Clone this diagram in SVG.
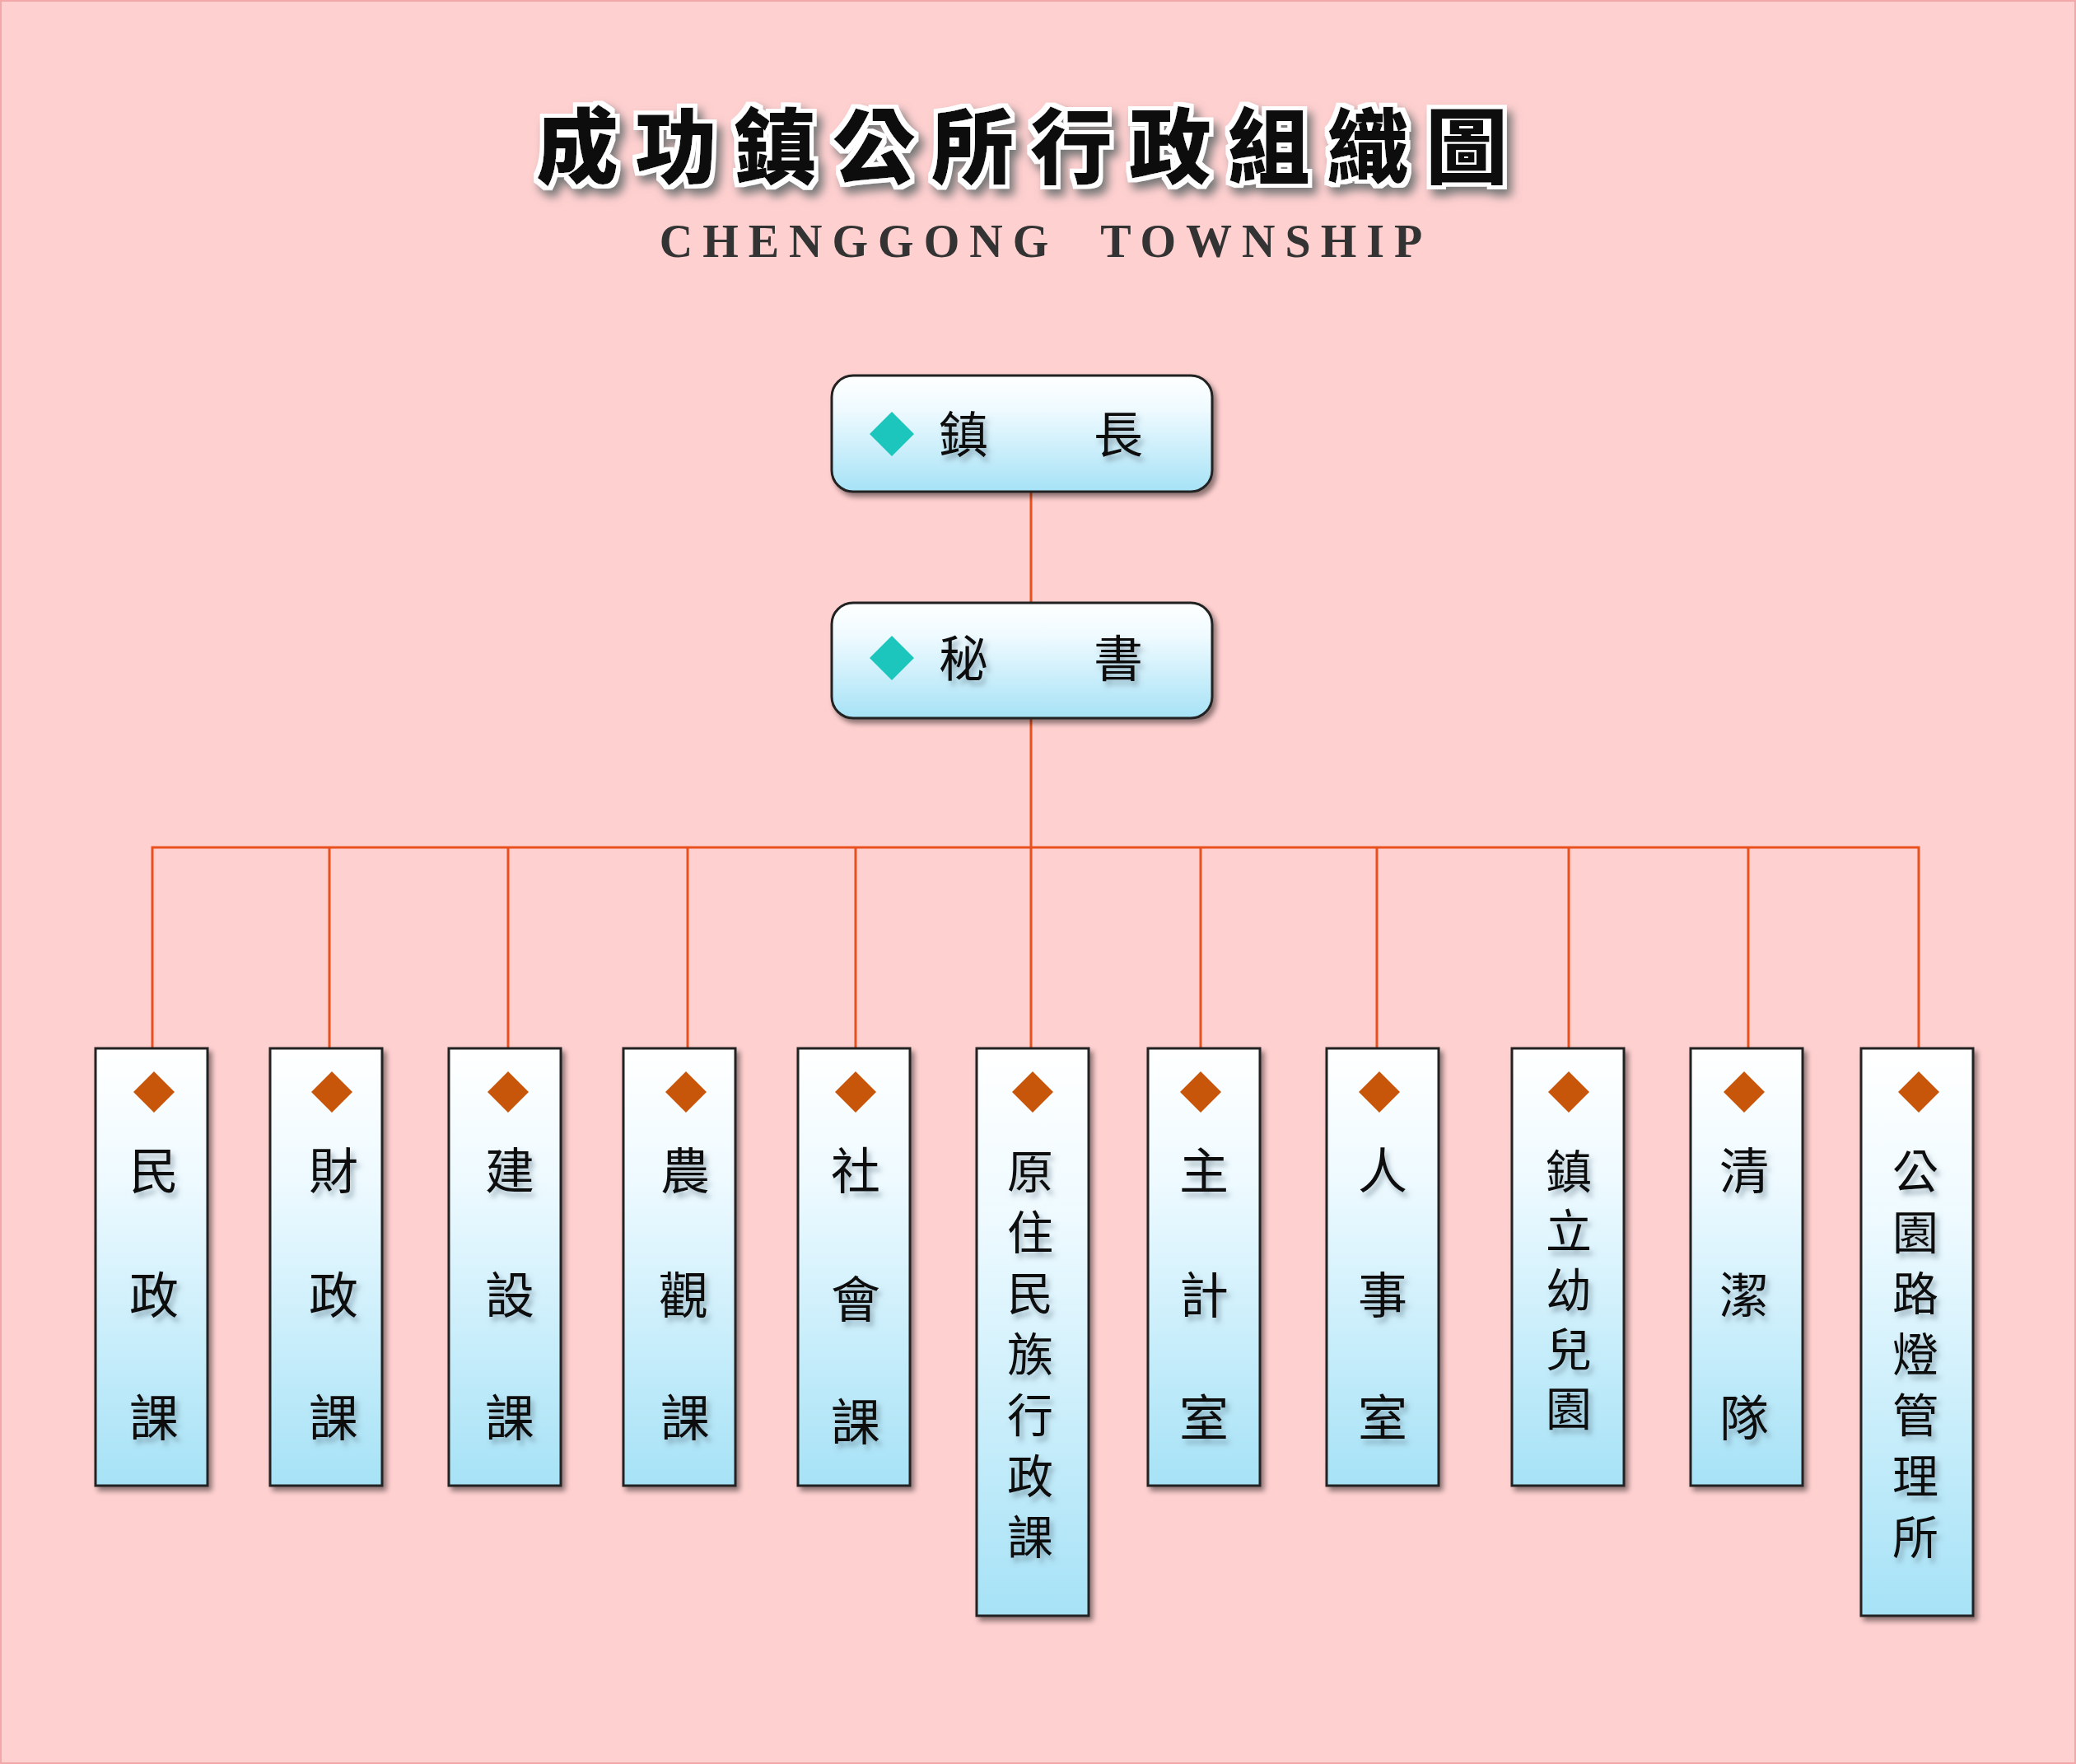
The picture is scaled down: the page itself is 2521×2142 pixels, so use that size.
<svg xmlns="http://www.w3.org/2000/svg" width="2521" height="2142" viewBox="0 0 2521 2142">
<defs>
<linearGradient id="g" x1="0" y1="0" x2="0" y2="1"><stop offset="0" stop-color="#ffffff"/><stop offset="0.3" stop-color="#eefaff"/><stop offset="1" stop-color="#a6e2f6"/></linearGradient>
<filter id="sh" x="-20%" y="-20%" width="140%" height="140%"><feDropShadow dx="4" dy="5" stdDeviation="3" flood-color="#000" flood-opacity="0.45"/></filter>
<filter id="ts" x="-20%" y="-20%" width="140%" height="160%"><feDropShadow dx="4" dy="6" stdDeviation="3" flood-color="#5a7080" flood-opacity="0.5"/></filter>
<filter id="tt" x="-10%" y="-20%" width="120%" height="160%"><feMorphology in="SourceAlpha" operator="dilate" radius="5" result="d"/><feFlood flood-color="#fff"/><feComposite in2="d" operator="in" result="w"/><feGaussianBlur in="d" stdDeviation="6" result="b"/><feOffset in="b" dx="6" dy="8" result="o"/><feFlood flood-color="#777"/><feComposite in2="o" operator="in" result="s"/><feMerge><feMergeNode in="s"/><feMergeNode in="w"/><feMergeNode in="SourceGraphic"/></feMerge></filter>
</defs>
<style>
.n{fill:url(#g);stroke:#222;stroke-width:3}
.t{font-family:"Noto Sans CJK TC","Noto Sans CJK SC",sans-serif;font-size:60px;fill:#111;text-anchor:middle;filter:url(#ts)}
.s{font-size:56px}
.c{stroke:#e8501e;stroke-width:3;fill:none}
.dt{fill:#1cc6bc}
.dc{fill:#c8560a}
</style>
<rect x="0" y="0" width="2521" height="2142" fill="#ffd0d0" stroke="#f2a8a8" stroke-width="4"/>
<g id="title">
<text x="1251" y="215" font-family="Noto Sans CJK TC,sans-serif" font-weight="900" font-size="100" letter-spacing="20" text-anchor="middle" fill="#111" filter="url(#tt)">成功鎮公所行政組織圖</text>
<text x="1270" y="312" font-family="Liberation Serif,serif" font-weight="bold" font-size="56" letter-spacing="12" text-anchor="middle" fill="#333" xml:space="preserve">CHENGGONG  TOWNSHIP</text>
</g>
<g id="connectors">
<path class="c" d="M1252 598V732M1252 872V1029M185 1273V1029H2330V1273M400 1029V1273M617 1029V1273M835 1029V1273M1039 1029V1273M1252 1029V1273M1458 1029V1273M1672 1029V1273M1905 1029V1273M2123 1029V1273"/>
</g>
<g id="mayor"><rect class="n" x="1010" y="456" width="462" height="141" rx="26" filter="url(#sh)"/><path class="dt" d="M1083 500l27 27-27 27-27-27z"/><text class="t" x="1170" y="550">鎮</text><text class="t" x="1358" y="550">長</text></g>
<g id="secretary"><rect class="n" x="1010" y="732" width="462" height="140" rx="26" filter="url(#sh)"/><path class="dt" d="M1083 772l27 27-27 27-27-27z"/><text class="t" x="1170" y="822">秘</text><text class="t" x="1358" y="822">書</text></g>
<g id="d1"><rect class="n" x="116" y="1273" width="136" height="531" filter="url(#sh)"/><path class="dc" d="M187 1301l25 25-25 25-25-25z"/><text class="t" x="187" y="1444">民</text><text class="t" x="187" y="1595">政</text><text class="t" x="187" y="1744">課</text></g>
<g id="d2"><rect class="n" x="328" y="1273" width="136" height="531" filter="url(#sh)"/><path class="dc" d="M403 1301l25 25-25 25-25-25z"/><text class="t" x="405" y="1444">財</text><text class="t" x="405" y="1595">政</text><text class="t" x="405" y="1744">課</text></g>
<g id="d3"><rect class="n" x="545" y="1273" width="136" height="531" filter="url(#sh)"/><path class="dc" d="M617 1301l25 25-25 25-25-25z"/><text class="t" x="619" y="1444">建</text><text class="t" x="619" y="1595">設</text><text class="t" x="619" y="1744">課</text></g>
<g id="d4"><rect class="n" x="757" y="1273" width="136" height="531" filter="url(#sh)"/><path class="dc" d="M833 1301l25 25-25 25-25-25z"/><text class="t" x="832" y="1444">農</text><text class="t" x="830" y="1595">觀</text><text class="t" x="832" y="1744">課</text></g>
<g id="d5"><rect class="n" x="969" y="1273" width="136" height="531" filter="url(#sh)"/><path class="dc" d="M1039 1301l25 25-25 25-25-25z"/><text class="t" x="1039" y="1444">社</text><text class="t" x="1039" y="1600">會</text><text class="t" x="1039" y="1749">課</text></g>
<g id="d6"><rect class="n" x="1186" y="1273" width="136" height="689" filter="url(#sh)"/><path class="dc" d="M1254 1301l25 25-25 25-25-25z"/><text class="t s" x="1251" y="1443">原</text><text class="t s" x="1251" y="1517">住</text><text class="t s" x="1251" y="1591">民</text><text class="t s" x="1251" y="1665">族</text><text class="t s" x="1251" y="1739">行</text><text class="t s" x="1251" y="1813">政</text><text class="t s" x="1251" y="1887">課</text></g>
<g id="d7"><rect class="n" x="1394" y="1273" width="136" height="531" filter="url(#sh)"/><path class="dc" d="M1458 1301l25 25-25 25-25-25z"/><text class="t" x="1462" y="1444">主</text><text class="t" x="1462" y="1595">計</text><text class="t" x="1462" y="1744">室</text></g>
<g id="d8"><rect class="n" x="1611" y="1273" width="136" height="531" filter="url(#sh)"/><path class="dc" d="M1675 1301l25 25-25 25-25-25z"/><text class="t" x="1679" y="1444">人</text><text class="t" x="1679" y="1595">事</text><text class="t" x="1679" y="1744">室</text></g>
<g id="d9"><rect class="n" x="1836" y="1273" width="136" height="531" filter="url(#sh)"/><path class="dc" d="M1905 1301l25 25-25 25-25-25z"/><text class="t s" x="1905" y="1443">鎮</text><text class="t s" x="1905" y="1515">立</text><text class="t s" x="1905" y="1587">幼</text><text class="t s" x="1905" y="1659">兒</text><text class="t s" x="1905" y="1731">園</text></g>
<g id="d10"><rect class="n" x="2053" y="1273" width="136" height="531" filter="url(#sh)"/><path class="dc" d="M2118 1301l25 25-25 25-25-25z"/><text class="t" x="2118" y="1444">清</text><text class="t" x="2118" y="1595">潔</text><text class="t" x="2118" y="1744">隊</text></g>
<g id="d11"><rect class="n" x="2260" y="1273" width="136" height="689" filter="url(#sh)"/><path class="dc" d="M2330 1301l25 25-25 25-25-25z"/><text class="t s" x="2326" y="1443">公</text><text class="t s" x="2326" y="1517">園</text><text class="t s" x="2326" y="1591">路</text><text class="t s" x="2326" y="1665">燈</text><text class="t s" x="2326" y="1739">管</text><text class="t s" x="2326" y="1813">理</text><text class="t s" x="2326" y="1887">所</text></g>
</svg>
